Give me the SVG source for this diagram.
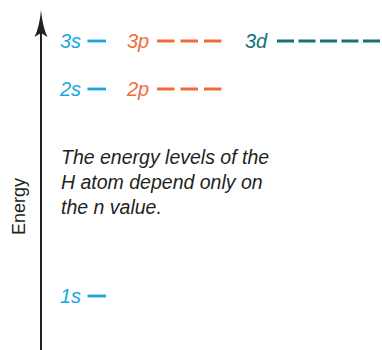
<svg xmlns="http://www.w3.org/2000/svg" width="382" height="350" viewBox="0 0 382 350">
<style>
.lbl{font-family:"Liberation Sans",Arial,sans-serif;font-size:20px;font-style:italic}
.txt{font-family:"Liberation Sans",Arial,sans-serif;font-size:19.5px;font-style:italic;fill:#231f20}
.s{fill:#1aa7e1}.p{fill:#f26c3b}.d{fill:#157176}
.ls{stroke:#1aa7e1;stroke-width:2.8;fill:none}
.lp{stroke:#f26c3b;stroke-width:2.8;fill:none;stroke-dasharray:17.5 6}
.ld{stroke:#157176;stroke-width:2.8;fill:none;stroke-dasharray:17 4.5}
</style>
<g id="axis">
<line x1="41" y1="32" x2="41" y2="350" stroke="#231f20" stroke-width="2"/>
<path d="M41,10 Q39.5,27 34.5,37 L41,33 L47.5,37 Q42.5,27 41,10 Z" fill="#231f20"/>
<text x="25" y="206.5" transform="rotate(-90 25 206.5)" text-anchor="middle" font-family="Liberation Sans,Arial,sans-serif" font-size="18" fill="#231f20">Energy</text>
</g>
<g id="level-3s"><text class="lbl s" x="60" y="47.5">3s</text><line class="ls" x1="87.5" y1="41" x2="106" y2="41"/></g>
<g id="level-3p"><text class="lbl p" x="127" y="47.5">3p</text><line class="lp" x1="157" y1="41" x2="221.5" y2="41"/></g>
<g id="level-3d"><text class="lbl d" x="245" y="47.5">3d</text><line class="ld" x1="277" y1="41" x2="380" y2="41"/></g>
<g id="level-2s"><text class="lbl s" x="60" y="95.5">2s</text><line class="ls" x1="87.5" y1="89" x2="106" y2="89"/></g>
<g id="level-2p"><text class="lbl p" x="127" y="95.5">2p</text><line class="lp" x1="157" y1="89" x2="221.5" y2="89"/></g>
<g id="level-1s"><text class="lbl s" x="60" y="302.5">1s</text><line class="ls" x1="87.5" y1="296" x2="106" y2="296"/></g>
<g id="note">
<text class="txt" x="61" y="164">The energy levels of the</text>
<text class="txt" x="61" y="189">H atom depend only on</text>
<text class="txt" x="61" y="214">the n value.</text>
</g>
</svg>
